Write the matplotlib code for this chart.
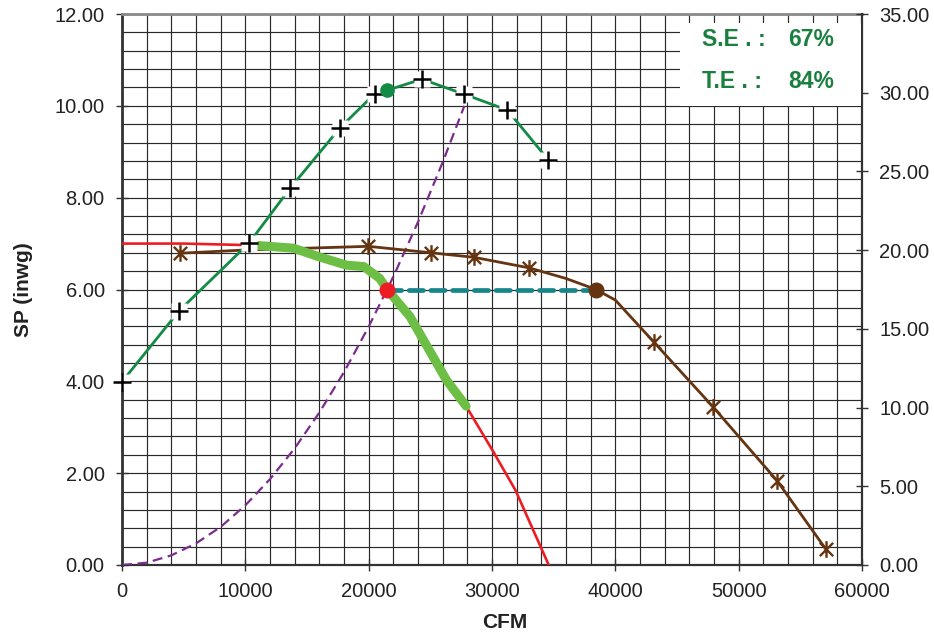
import numpy as np
import matplotlib
matplotlib.use('Agg')
import matplotlib.pyplot as plt
from matplotlib.path import Path
from matplotlib.patches import Rectangle

plt.rcParams['font.family'] = ['Liberation Sans', 'DejaVu Sans']

# ---- data (CFM vs SP inwg) ----
# fan static pressure curve (red)
fan_cfm = [0, 5000, 9700, 10900, 13900, 16000, 18200, 19600, 20900, 21500,
           23350, 26300, 27900, 30100, 31900, 34600]
fan_sp = [7.00, 7.00, 6.97, 6.96, 6.90, 6.71, 6.53, 6.50, 6.24, 6.00,
          5.41, 4.03, 3.46, 2.47, 1.63, 0.00]
# operating range highlighted (green thick) = fan points index 3..12
oper_range = (3, 13)

# total pressure curve (brown)
tp_cfm = [4700, 10000, 15000, 19970, 25050, 28570, 33030, 36000, 38430,
          40000, 43140, 47900, 53130, 57080]
tp_sp = [6.79, 6.86, 6.90, 6.94, 6.80, 6.70, 6.47, 6.24, 6.00,
         5.77, 4.85, 3.45, 1.83, 0.34]
tp_marked = [0, 3, 4, 5, 6, 10, 11, 12, 13]

# efficiency / power curve (green, right axis)
eff_cfm = [0, 4650, 10300, 13620, 17680, 20510, 21510, 24320, 27760, 31240, 34570]
eff_val = [11.64, 16.16, 20.45, 23.92, 27.77, 29.95, 30.16, 30.86, 29.90, 28.90, 25.73]
eff_marked = [0, 1, 2, 3, 4, 5, 7, 8, 9, 10]

# system curve (purple dashed)
sys_cfm = [0, 2000, 4000, 6000, 8000, 10000, 12000, 14000, 16000, 18000,
           20000, 22000, 24000, 26000, 27760]
sys_sp = [0.00, 0.05, 0.21, 0.47, 0.83, 1.30, 1.87, 2.54, 3.32, 4.20,
          5.19, 6.28, 7.47, 8.77, 10.00]

# operating points
op_cfm = 21510
op_sp = 6.00
op_eff = 30.16
tp_op_cfm = 38430
tp_op_sp = 6.00

se_text = "67%"
te_text = "84%"

x_ticks = [0, 10000, 20000, 30000, 40000, 50000, 60000]
y_ticks = [0, 2, 4, 6, 8, 10, 12]
y2_ticks = [0, 5, 10, 15, 20, 25, 30, 35]

# ---- colours ----
RED = '#ED1C24'
LGREEN = '#6CBE45'
DGREEN = '#138A45'
BROWN = '#653512'
PURPLE = '#7B2D8E'
TEAL = '#17868A'
TXTGREEN = '#1B7F3F'
GRID = '#2a2a2a'

W, H = 934, 635
fig = plt.figure(figsize=(W / 100, H / 100), dpi=100)
L, R, T, B = 122, 862, 14, 565
ax = fig.add_axes([L / W, 1 - B / H, (R - L) / W, (B - T) / H])
ax.set_xlim(0, 60000)
ax.set_ylim(0, 12)

ax.set_xticks(x_ticks)
ax.set_xticklabels([f"{v}" for v in x_ticks])
ax.set_yticks(y_ticks)
ax.set_yticklabels([f"{v:.2f}" for v in y_ticks])
ax.set_xticks(np.arange(0, 60001, 2000), minor=True)
ax.set_yticks(np.arange(0, 12.01, 0.4), minor=True)
ax.grid(which='both', color=GRID, lw=0.85, zorder=0)
ax.set_axisbelow(True)
ax.tick_params(which='minor', length=0)
ax.tick_params(which='major', direction='inout', length=9, width=1.0,
               labelsize=14.5, pad=8, color='#333333', labelcolor='#222222')

for s in ['left', 'bottom']:
    ax.spines[s].set_color('#333333')
ax.spines['left'].set_linewidth(2.0)
ax.spines['bottom'].set_linewidth(1.6)
ax.spines['top'].set_color('#8a8a8a')
ax.spines['top'].set_linewidth(2.0)
ax.spines['right'].set_visible(False)

ax.set_xlabel('CFM', fontsize=15, fontweight='bold', color='#222222')
ax.xaxis.set_label_coords((505 - L) / (R - L), -(613 - B) / (B - T))
ax.set_ylabel('SP (inwg)', fontsize=15, fontweight='bold', color='#222222')
ax.yaxis.set_label_coords(-(L - 33) / (R - L), 0.5)

# system curve
ax.plot(sys_cfm, sys_sp, color=PURPLE, lw=1.6, dashes=(4.5, 2.5), zorder=3)
# fan curve
ax.plot(fan_cfm, fan_sp, color=RED, lw=1.9, zorder=4)
# operating range
i0, i1 = oper_range
ax.plot(fan_cfm[i0:i1], fan_sp[i0:i1], color=LGREEN, lw=6.5,
        solid_capstyle='round', solid_joinstyle='round', zorder=5)

# total pressure curve with asterisk markers
ast = Path([(0, -1), (0, 1), (-0.8, -0.8), (0.8, 0.8), (-0.8, 0.8), (0.8, -0.8)],
           [Path.MOVETO, Path.LINETO, Path.MOVETO, Path.LINETO, Path.MOVETO, Path.LINETO])
ax.plot(tp_cfm, tp_sp, color=BROWN, lw=2.0, zorder=4)
ax.plot([tp_cfm[i] for i in tp_marked], [tp_sp[i] for i in tp_marked],
        ls='none', marker=ast, ms=12, mew=1.7, mec=BROWN, zorder=6)

# operating line and points
ax.plot([op_cfm, tp_op_cfm], [op_sp, tp_op_sp], color=TEAL, lw=3.4,
        dashes=(3.0, 1.6), dash_capstyle='round', zorder=6)
ax.plot([op_cfm], [op_sp], 'o', ms=10.5, color=RED, mec=RED, zorder=8)
ax.plot([tp_op_cfm], [tp_op_sp], 'o', ms=10.5, color=BROWN, mec=BROWN, zorder=8)

# right axis
ax2 = ax.twinx()
ax2.set_ylim(0, 35)
ax2.set_yticks(y2_ticks)
ax2.set_yticklabels([f"{v:.2f}" for v in y2_ticks])
ax2.tick_params(direction='inout', length=9, width=1.0, labelsize=14.5, pad=8,
                color='#333333', labelcolor='#222222')
for s in ['left', 'top', 'bottom']:
    ax2.spines[s].set_visible(False)
ax2.spines['right'].set_color('#333333')
ax2.spines['right'].set_linewidth(1.6)

ax2.plot(eff_cfm, eff_val, color=DGREEN, lw=2.0, zorder=3)
mx = [eff_cfm[i] for i in eff_marked]
my = [eff_val[i] for i in eff_marked]
ax2.plot(mx, my, ls='none', marker='s', ms=12, mfc='white', mec='none', zorder=4,
         clip_on=False)
ax2.plot(mx, my, ls='none', marker='+', ms=12.5, mew=1.8, mec='black', zorder=5,
         clip_on=False)
ax2.plot([op_cfm], [op_eff], 'o', ms=9.5, color=DGREEN, mec=DGREEN, zorder=6)

# efficiency box
bx0 = (680 - L) / (R - L)
by0 = (B - 106) / (B - T)
by1 = (B - 23) / (B - T)
ax2.add_patch(Rectangle((bx0, by0), 0.998 - bx0, by1 - by0, transform=ax2.transAxes,
                        facecolor='white', edgecolor='none', zorder=10))
for label, val, ypx in [("S.E . :", se_text, 40), ("T.E . :", te_text, 82)]:
    yy = (B - ypx) / (B - T)
    ax2.text((702 - L) / (R - L), yy, label, transform=ax2.transAxes, fontsize=16.5,
             fontweight='bold', color=TXTGREEN, va='center', ha='left', zorder=11)
    ax2.text((788 - L) / (R - L), yy, val, transform=ax2.transAxes, fontsize=16.5,
             fontweight='bold', color=TXTGREEN, va='center', ha='left', zorder=11)

fig.savefig('out.png', dpi=100)
